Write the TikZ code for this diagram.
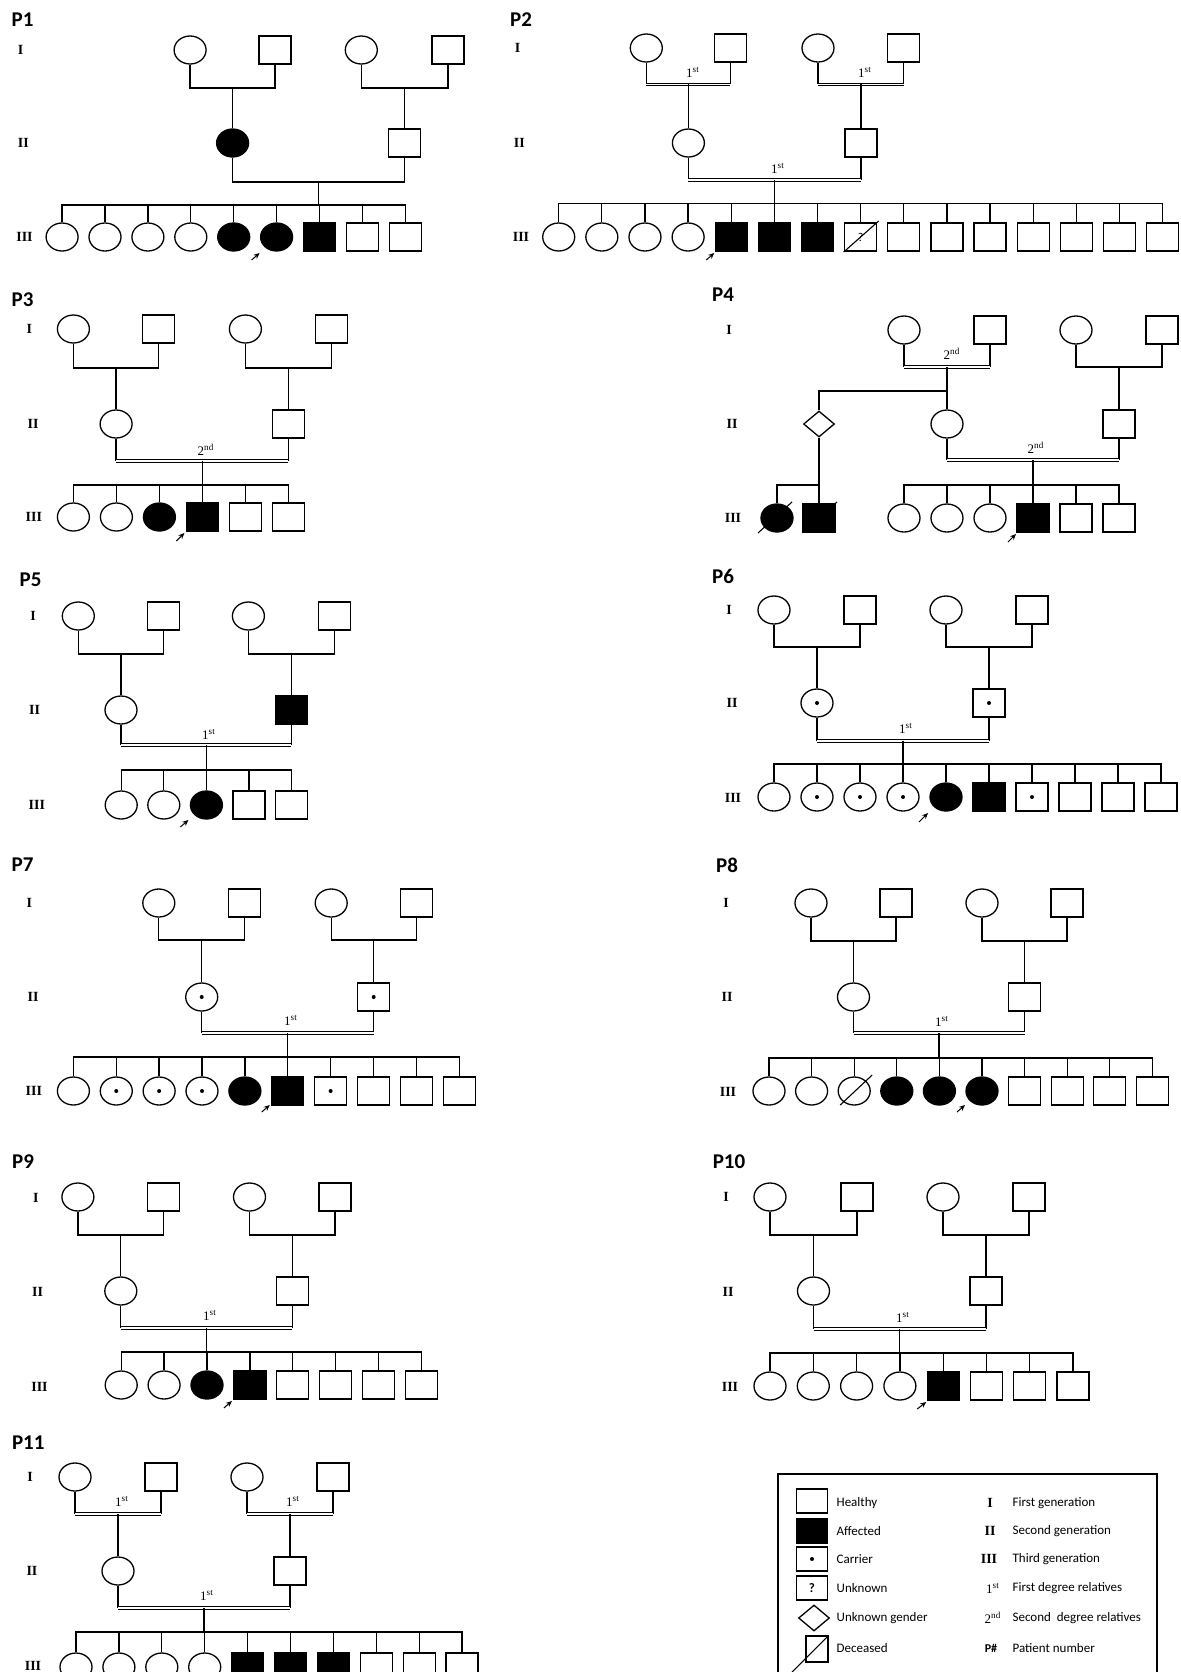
\documentclass[tikz,border=0pt]{standalone}
\usepackage{fontspec}
\setmainfont{Liberation Serif}
\newfontfamily\lgdfont{Carlito}
\usetikzlibrary{shapes.geometric,arrows.meta}
\tikzset{
  ind/.style={draw,inner sep=0pt,minimum width=16pt,minimum height=14pt},
  fh/.style={ind,ellipse},
  mh/.style={ind,rectangle},
  fa/.style={fh,fill=black},
  ma/.style={mh,fill=black},
  cdot/.style={path picture={\fill (path picture bounding box.center) circle (1pt);}},
  fc/.style={fh,cdot},
  mc/.style={mh,cdot},
  ug/.style={draw,diamond,inner sep=0pt,minimum width=15.5pt,minimum height=13pt},
  consang/.style={line width=0.45pt,double distance=0.8pt},
  deg/.style={font=\fontsize{6.5}{7}\selectfont,inner sep=0pt},
  gen/.style={font=\fontsize{7}{8}\selectfont\bfseries,inner sep=0pt},
  ptitle/.style={font=\lgdfont\bfseries\fontsize{10.5}{12}\selectfont,inner sep=0pt},
  prb/.style={line width=0.5pt,-{Stealth[length=3pt,width=2.6pt]}},
  dead/.style={line width=0.55pt},
  lgd/.style={font=\lgdfont\fontsize{6.5}{8}\selectfont,inner sep=0pt,anchor=west},
  lbox/.style={draw,inner sep=0pt,minimum width=15.5pt,minimum height=12pt}
}
\begin{document}
\begin{tikzpicture}[x=0.5pt,y=-0.5pt,line width=0.65pt]
\useasboundingbox (0,0) rectangle (1180,1672);
\fill[white] (0,0) rectangle (1180,1672);
\clip (0,0) rectangle (1180,1672);

\node[ptitle] (p1) at (22.6,20) {P1};
\node[gen] (p1g1) at (20.7,50) {I};
\node[gen] (p1g2) at (23.3,143) {II};
\node[gen] (p1g3) at (24.5,237) {III};
\node[fh] (p1a) at (190.1,50) {};
\node[mh] (p1b) at (275.1,50) {};
\node[fh] (p1c) at (361.3,50) {};
\node[mh] (p1d) at (447.9,50) {};
\coordinate (p1ab) at (232.6,88);
\coordinate (p1cd) at (404.6,88);
\draw (p1a.south) |- (p1ab) -| (p1b.south);
\draw (p1c.south) |- (p1cd) -| (p1d.south);
\node[fa] (p1e) at (232.6,143) {};
\node[mh] (p1f) at (404.6,143) {};
\draw (p1ab) -- (p1e.north);
\draw (p1cd) -- (p1f.north);
\coordinate (p1ef) at (318.6,182);
\coordinate (p1s) at (318.6,205);
\draw (p1e.south) |- (p1ef) -| (p1f.south);
\draw (p1ef) -- (p1s);
\foreach \ty [count=\i] in {fh,fh,fh,fh,fa,fa,ma,mh,mh}{
  \node[\ty] (p1k\i) at ({62.1+42.9*(\i-1)},237) {};
  \draw (p1k\i.north) |- (p1s);
}
\draw[prb] ([shift={(-25,23)}]p1k6.center) -- ([shift={(-17,16)}]p1k6.center);

\node[ptitle] (p2) at (521,20) {P2};
\node[gen] (p2g1) at (517.5,48) {I};
\node[gen] (p2g2) at (519.4,143) {II};
\node[gen] (p2g3) at (521,237) {III};
\node[fh] (p2a) at (646.3,48) {};
\node[mh] (p2b) at (730.4,48) {};
\node[fh] (p2c) at (818,48) {};
\node[mh] (p2d) at (903.8,48) {};
\coordinate (p2ab) at (688.4,84.3);
\coordinate (p2cd) at (860.9,84.3);
\draw (p2a.south) -- (p2a.south |- p2ab);
\draw (p2b.south) -- (p2b.south |- p2ab);
\draw[consang] (p2a.south |- p2ab) -- (p2b.south |- p2ab);
\draw (p2c.south) -- (p2c.south |- p2cd);
\draw (p2d.south) -- (p2d.south |- p2cd);
\draw[consang] (p2c.south |- p2cd) -- (p2d.south |- p2cd);
\node[deg] (p2r1) at (693,72) {1\textsuperscript{st}};
\node[deg] (p2r2) at (865,72) {1\textsuperscript{st}};
\node[fh] (p2e) at (688.4,143) {};
\node[mh] (p2f) at (860.9,143) {};
\draw (p2ab) -- (p2e.north);
\draw (p2cd) -- (p2f.north);
\coordinate (p2ef) at (774.6,180);
\coordinate (p2s) at (774.6,203.3);
\draw (p2e.south) -- (p2e.south |- p2ef);
\draw (p2f.south) -- (p2f.south |- p2ef);
\draw[consang] (p2e.south |- p2ef) -- (p2f.south |- p2ef);
\node[deg] (p2r3) at (778,168) {1\textsuperscript{st}};
\draw (p2ef) -- (p2s);
\foreach \ty [count=\i] in {fh,fh,fh,fh,ma,ma,ma,mh,mh,mh,mh,mh,mh,mh,mh}{
  \node[\ty] (p2k\i) at ({558.7+43.14*(\i-1)},237) {};
  \draw (p2k\i.north) |- (p2s);
}
\node[font=\lgdfont\fontsize{6}{7}\selectfont,inner sep=0pt] (p2q) at (p2k8) {?};
\draw[dead] ([shift={(-17,15)}]p2k8.center) -- ([shift={(18,-16)}]p2k8.center);
\draw[prb] ([shift={(-25,23)}]p2k5.center) -- ([shift={(-17,16)}]p2k5.center);

\node[ptitle] (p3) at (22.6,300) {P3};
\node[gen] (p3g1) at (29.4,329) {I};
\node[gen] (p3g2) at (33.1,424) {II};
\node[gen] (p3g3) at (33.9,517) {III};
\node[fh] (p3a) at (73.4,329) {};
\node[mh] (p3b) at (158.8,329) {};
\node[fh] (p3c) at (245.4,329) {};
\node[mh] (p3d) at (331.2,329) {};
\coordinate (p3ab) at (116.1,368);
\coordinate (p3cd) at (288.3,368);
\draw (p3a.south) |- (p3ab) -| (p3b.south);
\draw (p3c.south) |- (p3cd) -| (p3d.south);
\node[fh] (p3e) at (116.1,424) {};
\node[mh] (p3f) at (288.3,424) {};
\draw (p3ab) -- (p3e.north);
\draw (p3cd) -- (p3f.north);
\coordinate (p3ef) at (202.2,461);
\coordinate (p3s) at (202.2,485);
\draw (p3e.south) -- (p3e.south |- p3ef);
\draw (p3f.south) -- (p3f.south |- p3ef);
\draw[consang] (p3e.south |- p3ef) -- (p3f.south |- p3ef);
\node[deg] (p3r1) at (206,450) {2\textsuperscript{nd}};
\draw (p3ef) -- (p3s);
\foreach \ty [count=\i] in {fh,fh,fa,ma,mh,mh}{
  \node[\ty] (p3k\i) at ({73.4+43*(\i-1)},517) {};
  \draw (p3k\i.north) |- (p3s);
}
\draw[prb] ([shift={(-26,24)}]p3k4.center) -- ([shift={(-18,16)}]p3k4.center);

\node[ptitle] (p4) at (723,295) {P4};
\node[gen] (p4g1) at (729,330) {I};
\node[gen] (p4g2) at (732,424) {II};
\node[gen] (p4g3) at (733,518) {III};
\node[fh] (p4a) at (904,330) {};
\node[mh] (p4b) at (990,330) {};
\node[fh] (p4c) at (1076,330) {};
\node[mh] (p4d) at (1162,330) {};
\coordinate (p4ab) at (947,367);
\coordinate (p4cd) at (1119,367);
\draw (p4a.south) -- (p4a.south |- p4ab);
\draw (p4b.south) -- (p4b.south |- p4ab);
\draw[consang] (p4a.south |- p4ab) -- (p4b.south |- p4ab);
\node[deg] (p4r1) at (952,354) {2\textsuperscript{nd}};
\draw (p4c.south) |- (p4cd) -| (p4d.south);
\coordinate (p4s1) at (947,391);
\node[ug] (p4u) at (819,424) {};
\node[fh] (p4e) at (947,424) {};
\node[mh] (p4f) at (1119,424) {};
\draw (p4ab) -- (p4e.north);
\draw (p4u.north) |- (p4s1);
\draw (p4cd) -- (p4f.north);
\coordinate (p4s2) at (819,485);
\draw (p4u.south) -- (p4s2);
\node[fa] (p4h) at (777,518) {};
\node[ma] (p4i) at (819,518) {};
\draw (p4h.north) |- (p4s2);
\draw (p4i.north) -- (p4s2);
\draw[dead] ([shift={(-19,15)}]p4h.center) -- ([shift={(15,-16)}]p4h.center);
\draw[dead] ([shift={(-17,14)}]p4i.center) -- ([shift={(18,-16)}]p4i.center);
\coordinate (p4ef) at (1033,460);
\coordinate (p4s3) at (1033,485);
\draw (p4e.south) -- (p4e.south |- p4ef);
\draw (p4f.south) -- (p4f.south |- p4ef);
\draw[consang] (p4e.south |- p4ef) -- (p4f.south |- p4ef);
\node[deg] (p4r2) at (1036,448) {2\textsuperscript{nd}};
\draw (p4ef) -- (p4s3);
\foreach \ty [count=\i] in {fh,fh,fh,ma,mh,mh}{
  \node[\ty] (p4k\i) at ({904+43*(\i-1)},518) {};
  \draw (p4k\i.north) |- (p4s3);
}
\draw[prb] ([shift={(-25,24)}]p4k4.center) -- ([shift={(-17,16)}]p4k4.center);

\node[ptitle] (p5) at (30.5,580) {P5};
\node[gen] (p5g1) at (33.1,616) {I};
\node[gen] (p5g2) at (34.6,710) {II};
\node[gen] (p5g3) at (36.9,805) {III};
\node[fh] (p5a) at (78.3,616) {};
\node[mh] (p5b) at (163.7,616) {};
\node[fh] (p5c) at (248.4,616) {};
\node[mh] (p5d) at (334.2,616) {};
\coordinate (p5ab) at (121,654);
\coordinate (p5cd) at (291.3,654);
\draw (p5a.south) |- (p5ab) -| (p5b.south);
\draw (p5c.south) |- (p5cd) -| (p5d.south);
\node[fh] (p5e) at (121,710) {};
\node[ma] (p5f) at (291.3,710) {};
\draw (p5ab) -- (p5e.north);
\draw (p5cd) -- (p5f.north);
\coordinate (p5ef) at (206.2,745);
\coordinate (p5s) at (206.2,770);
\draw (p5e.south) -- (p5e.south |- p5ef);
\draw (p5f.south) -- (p5f.south |- p5ef);
\draw[consang] (p5e.south |- p5ef) -- (p5f.south |- p5ef);
\node[deg] (p5r1) at (209,734) {1\textsuperscript{st}};
\draw (p5ef) -- (p5s);
\foreach \ty [count=\i] in {fh,fh,fa,mh,mh}{
  \node[\ty] (p5k\i) at ({121.2+42.6*(\i-1)},805) {};
  \draw (p5k\i.north) |- (p5s);
}
\draw[prb] ([shift={(-26,22)}]p5k3.center) -- ([shift={(-18,15)}]p5k3.center);

\node[ptitle] (p6) at (723,576) {P6};
\node[gen] (p6g1) at (729,610) {I};
\node[gen] (p6g2) at (732,703) {II};
\node[gen] (p6g3) at (733,798) {III};
\node[fh] (p6a) at (774,610) {};
\node[mh] (p6b) at (860,610) {};
\node[fh] (p6c) at (946,610) {};
\node[mh] (p6d) at (1032,610) {};
\coordinate (p6ab) at (817,647);
\coordinate (p6cd) at (989,647);
\draw (p6a.south) |- (p6ab) -| (p6b.south);
\draw (p6c.south) |- (p6cd) -| (p6d.south);
\node[fc] (p6e) at (817,703) {};
\node[mc] (p6f) at (989,703) {};
\draw (p6ab) -- (p6e.north);
\draw (p6cd) -- (p6f.north);
\coordinate (p6ef) at (903,741);
\coordinate (p6s) at (903,764);
\draw (p6e.south) -- (p6e.south |- p6ef);
\draw (p6f.south) -- (p6f.south |- p6ef);
\draw[consang] (p6e.south |- p6ef) -- (p6f.south |- p6ef);
\node[deg] (p6r1) at (906,728) {1\textsuperscript{st}};
\draw (p6ef) -- (p6s);
\foreach \ty [count=\i] in {fh,fc,fc,fc,fa,ma,mc,mh,mh,mh}{
  \node[\ty] (p6k\i) at ({774+43*(\i-1)},797) {};
  \draw (p6k\i.north) |- (p6s);
}
\draw[prb] ([shift={(-27,25)}]p6k5.center) -- ([shift={(-18,16)}]p6k5.center);

\node[ptitle] (p7) at (22.6,865) {P7};
\node[gen] (p7g1) at (29.4,903) {I};
\node[gen] (p7g2) at (33.1,997) {II};
\node[gen] (p7g3) at (33.9,1091) {III};
\node[fh] (p7a) at (158.8,903) {};
\node[mh] (p7b) at (244.6,903) {};
\node[fh] (p7c) at (331.2,903) {};
\node[mh] (p7d) at (416.3,903) {};
\coordinate (p7ab) at (201.7,940);
\coordinate (p7cd) at (373.7,940);
\draw (p7a.south) |- (p7ab) -| (p7b.south);
\draw (p7c.south) |- (p7cd) -| (p7d.south);
\node[fc] (p7e) at (201.7,997) {};
\node[mc] (p7f) at (373.7,997) {};
\draw (p7ab) -- (p7e.north);
\draw (p7cd) -- (p7f.north);
\coordinate (p7ef) at (287.7,1033);
\coordinate (p7s) at (287.7,1057);
\draw (p7e.south) -- (p7e.south |- p7ef);
\draw (p7f.south) -- (p7f.south |- p7ef);
\draw[consang] (p7e.south |- p7ef) -- (p7f.south |- p7ef);
\node[deg] (p7r1) at (291,1020) {1\textsuperscript{st}};
\draw (p7ef) -- (p7s);
\foreach \ty [count=\i] in {fh,fc,fc,fc,fa,ma,mc,mh,mh,mh}{
  \node[\ty] (p7k\i) at ({73.4+42.87*(\i-1)},1091) {};
  \draw (p7k\i.north) |- (p7s);
}
\draw[prb] ([shift={(-26,21)}]p7k6.center) -- ([shift={(-18,14)}]p7k6.center);

\node[ptitle] (p8) at (727,865) {P8};
\node[gen] (p8g1) at (726,903) {I};
\node[gen] (p8g2) at (727,997) {II};
\node[gen] (p8g3) at (728,1092) {III};
\node[fh] (p8a) at (811,903) {};
\node[mh] (p8b) at (896,903) {};
\node[fh] (p8c) at (982,903) {};
\node[mh] (p8d) at (1067,903) {};
\coordinate (p8ab) at (853.5,941);
\coordinate (p8cd) at (1024.5,941);
\draw (p8a.south) |- (p8ab) -| (p8b.south);
\draw (p8c.south) |- (p8cd) -| (p8d.south);
\node[fh] (p8e) at (853.5,997) {};
\node[mh] (p8f) at (1024.5,997) {};
\draw (p8ab) -- (p8e.north);
\draw (p8cd) -- (p8f.north);
\coordinate (p8ef) at (939,1033);
\coordinate (p8s) at (939,1058);
\draw (p8e.south) -- (p8e.south |- p8ef);
\draw (p8f.south) -- (p8f.south |- p8ef);
\draw[consang] (p8e.south |- p8ef) -- (p8f.south |- p8ef);
\node[deg] (p8r1) at (942,1021) {1\textsuperscript{st}};
\draw (p8ef) -- (p8s);
\foreach \ty [count=\i] in {fh,fh,fh,fa,fa,fa,mh,mh,mh,mh}{
  \node[\ty] (p8k\i) at ({769+42.6*(\i-1)},1091) {};
  \draw (p8k\i.north) |- (p8s);
}
\draw[dead] ([shift={(-14,14)}]p8k3.center) -- ([shift={(18,-16)}]p8k3.center);
\draw[prb] ([shift={(-25,21)}]p8k6.center) -- ([shift={(-17,14)}]p8k6.center);

\node[ptitle] (p9) at (23,1162) {P9};
\node[gen] (p9g1) at (35.8,1198) {I};
\node[gen] (p9g2) at (37.6,1292) {II};
\node[gen] (p9g3) at (39.5,1387) {III};
\node[fh] (p9a) at (77.9,1197) {};
\node[mh] (p9b) at (163.7,1197) {};
\node[fh] (p9c) at (249.5,1197) {};
\node[mh] (p9d) at (335,1197) {};
\coordinate (p9ab) at (120.8,1235);
\coordinate (p9cd) at (292.3,1235);
\draw (p9a.south) |- (p9ab) -| (p9b.south);
\draw (p9c.south) |- (p9cd) -| (p9d.south);
\node[fh] (p9e) at (120.8,1291) {};
\node[mh] (p9f) at (292.3,1291) {};
\draw (p9ab) -- (p9e.north);
\draw (p9cd) -- (p9f.north);
\coordinate (p9ef) at (206.5,1328);
\coordinate (p9s) at (206.5,1352);
\draw (p9e.south) -- (p9e.south |- p9ef);
\draw (p9f.south) -- (p9f.south |- p9ef);
\draw[consang] (p9e.south |- p9ef) -- (p9f.south |- p9ef);
\node[deg] (p9r1) at (210,1315) {1\textsuperscript{st}};
\draw (p9ef) -- (p9s);
\foreach \ty [count=\i] in {fh,fh,fa,ma,mh,mh,mh,mh}{
  \node[\ty] (p9k\i) at ({121.2+42.9*(\i-1)},1385) {};
  \draw (p9k\i.north) |- (p9s);
}
\draw[prb] ([shift={(-26,23)}]p9k4.center) -- ([shift={(-18,16)}]p9k4.center);

\node[ptitle] (p10) at (729,1162) {P10};
\node[gen] (p10g1) at (726,1197) {I};
\node[gen] (p10g2) at (728,1292) {II};
\node[gen] (p10g3) at (730,1387) {III};
\node[fh] (p10a) at (770,1197) {};
\node[mh] (p10b) at (857,1197) {};
\node[fh] (p10c) at (943,1197) {};
\node[mh] (p10d) at (1029,1197) {};
\coordinate (p10ab) at (813.5,1235);
\coordinate (p10cd) at (986,1235);
\draw (p10a.south) |- (p10ab) -| (p10b.south);
\draw (p10c.south) |- (p10cd) -| (p10d.south);
\node[fh] (p10e) at (813.5,1291) {};
\node[mh] (p10f) at (986,1291) {};
\draw (p10ab) -- (p10e.north);
\draw (p10cd) -- (p10f.north);
\coordinate (p10ef) at (899.75,1329);
\coordinate (p10s) at (899.75,1353);
\draw (p10e.south) -- (p10e.south |- p10ef);
\draw (p10f.south) -- (p10f.south |- p10ef);
\draw[consang] (p10e.south |- p10ef) -- (p10f.south |- p10ef);
\node[deg] (p10r1) at (903,1317) {1\textsuperscript{st}};
\draw (p10ef) -- (p10s);
\foreach \ty [count=\i] in {fh,fh,fh,fh,ma,mh,mh,mh}{
  \node[\ty] (p10k\i) at ({770+43.3*(\i-1)},1386) {};
  \draw (p10k\i.north) |- (p10s);
}
\draw[prb] ([shift={(-26,23)}]p10k5.center) -- ([shift={(-17,16)}]p10k5.center);

\node[ptitle] (p11) at (28.3,1443) {P11};
\node[gen] (p11g1) at (30,1477) {I};
\node[gen] (p11g2) at (32,1571) {II};
\node[gen] (p11g3) at (33,1666) {III};
\node[fh] (p11a) at (75,1477) {};
\node[mh] (p11b) at (161,1477) {};
\node[fh] (p11c) at (247,1477) {};
\node[mh] (p11d) at (333,1477) {};
\coordinate (p11ab) at (118,1514);
\coordinate (p11cd) at (290,1514);
\draw (p11a.south) -- (p11a.south |- p11ab);
\draw (p11b.south) -- (p11b.south |- p11ab);
\draw[consang] (p11a.south |- p11ab) -- (p11b.south |- p11ab);
\draw (p11c.south) -- (p11c.south |- p11cd);
\draw (p11d.south) -- (p11d.south |- p11cd);
\draw[consang] (p11c.south |- p11cd) -- (p11d.south |- p11cd);
\node[deg] (p11r1) at (122,1501) {1\textsuperscript{st}};
\node[deg] (p11r2) at (293,1501) {1\textsuperscript{st}};
\node[fh] (p11e) at (118,1571) {};
\node[mh] (p11f) at (290,1571) {};
\draw (p11ab) -- (p11e.north);
\draw (p11cd) -- (p11f.north);
\coordinate (p11ef) at (204,1608);
\coordinate (p11s) at (204,1632);
\draw (p11e.south) -- (p11e.south |- p11ef);
\draw (p11f.south) -- (p11f.south |- p11ef);
\draw[consang] (p11e.south |- p11ef) -- (p11f.south |- p11ef);
\node[deg] (p11r3) at (207,1595) {1\textsuperscript{st}};
\draw (p11ef) -- (p11s);
\foreach \ty [count=\i] in {fh,fh,fh,fh,ma,ma,ma,mh,mh,mh}{
  \node[\ty] (p11k\i) at ({76+42.9*(\i-1)},1667) {};
  \draw (p11k\i.north) |- (p11s);
}

\draw[line width=0.6pt] (778,1474) rectangle (1157,1700);
\node[lbox] (lk1) at (812,1501) {};
\node[lbox,fill=black] (lk2) at (812,1531) {};
\node[lbox,cdot] (lk3) at (812,1559) {};
\node[lbox,font=\lgdfont\bfseries\fontsize{6.5}{7}\selectfont] (lk4) at (812,1588) {?};
\node[ug] (lk5) at (814,1618) {};
\node[lbox,minimum width=11pt,minimum height=13pt] (lk6) at (817,1649) {};
\draw[dead] ([shift={(-25,23)}]lk6.center) -- ([shift={(11,-13)}]lk6.center);
\node[lgd] (lt1) at (836,1503) {Healthy};
\node[lgd] (lt2) at (836,1531) {Affected};
\node[lgd] (lt3) at (836,1559) {Carrier};
\node[lgd] (lt4) at (836,1588) {Unknown};
\node[lgd] (lt5) at (836,1618) {Unknown gender};
\node[lgd] (lt6) at (836,1648) {Deceased};
\node[gen] (ls1) at (990,1503) {I};
\node[gen] (ls2) at (990,1531) {II};
\node[gen] (ls3) at (989,1559) {III};
\node[deg] (ls4) at (993,1588) {1\textsuperscript{st}};
\node[deg] (ls5) at (993,1618) {2\textsuperscript{nd}};
\node[gen,font=\lgdfont\bfseries\fontsize{6}{7}\selectfont] (ls6) at (991,1648) {P\#};
\node[lgd] (lr1) at (1012,1503) {First generation};
\node[lgd] (lr2) at (1012,1531) {Second generation};
\node[lgd] (lr3) at (1012,1559) {Third generation};
\node[lgd] (lr4) at (1012,1588) {First degree relatives};
\node[lgd] (lr5) at (1012,1618) {Second\ \ degree relatives};
\node[lgd] (lr6) at (1012,1648) {Patient number};
\end{tikzpicture}
\end{document}
